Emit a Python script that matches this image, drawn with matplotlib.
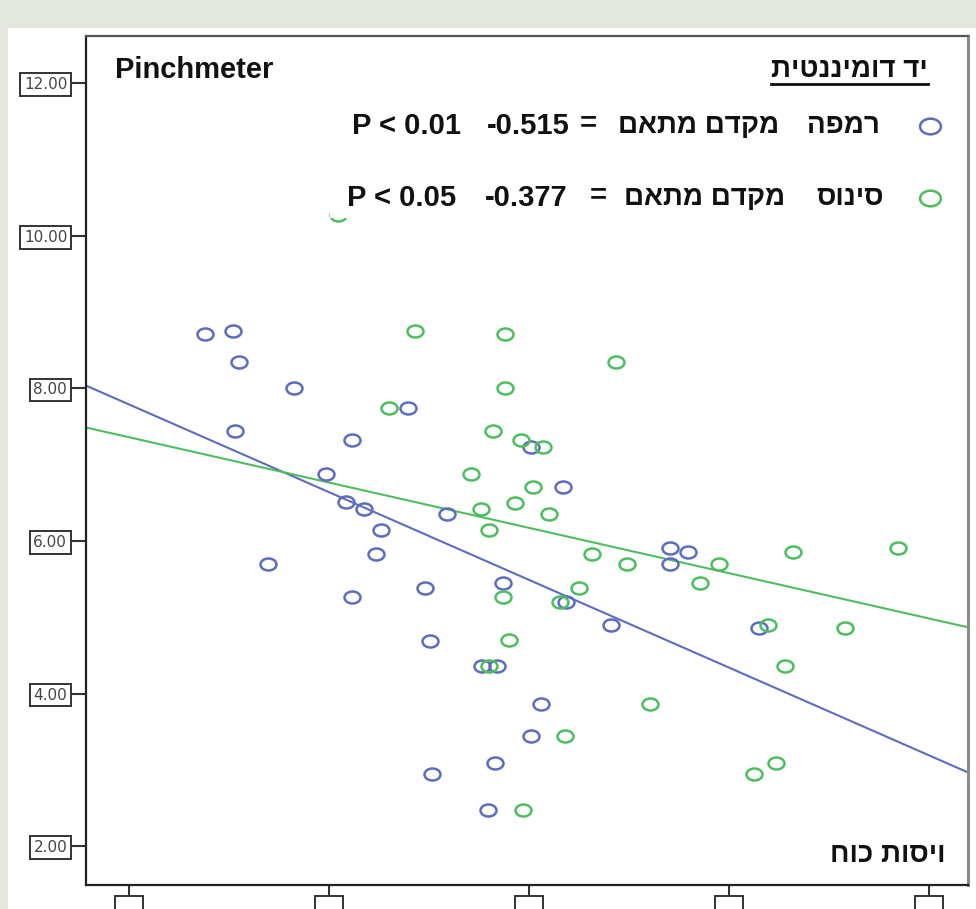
import matplotlib
matplotlib.use("Agg")
import matplotlib.pyplot as plt
import numpy as np
from matplotlib.path import Path
from matplotlib.transforms import Affine2D, IdentityTransform
from matplotlib.patches import Rectangle
from matplotlib.lines import Line2D

plt.rcParams['font.family'] = ['Liberation Sans', 'DejaVu Sans']

# רמפה (blue) points
ramp_x = [0.38, 0.52, 0.55, 0.825, 1.395, 0.53, 1.115, 0.985, 1.085, 1.175, 1.26,
          1.235, 0.695, 1.48, 1.115, 1.59, 2.01, 2.17, 1.87, 2.185, 2.41, 1.505,
          1.765, 1.84, 2.06, 2.01, 1.83, 1.515, 1.795, 2.705, 2.795, 2.705, 3.15]
ramp_y = [8.71, 8.75, 8.34, 8.00, 7.74, 7.44, 7.32, 6.88, 6.51, 6.42, 6.15,
          5.83, 5.70, 5.39, 5.26, 6.36, 7.23, 6.71, 5.45, 5.20, 4.90, 4.69,
          4.36, 4.36, 3.86, 3.44, 3.09, 2.94, 2.47, 5.91, 5.85, 5.70, 4.86]

# סינוס (green) points
sinus_x = [1.045, 1.43, 1.30, 1.88, 2.435, 1.88, 1.82, 1.96, 2.07, 1.71, 2.02,
           1.93, 1.76, 2.10, 1.80, 2.315, 2.49, 2.95, 2.855, 1.87, 2.25, 2.155,
           1.90, 1.80, 2.605, 2.18, 1.97, 3.32, 3.845, 3.195, 3.58, 3.28, 3.235, 3.125]
sinus_y = [10.27, 8.75, 7.74, 8.71, 8.34, 8.00, 7.44, 7.32, 7.23, 6.88, 6.71,
           6.50, 6.42, 6.36, 6.15, 5.83, 5.70, 5.70, 5.45, 5.26, 5.39, 5.20,
           4.70, 4.36, 3.86, 3.44, 2.47, 5.85, 5.91, 4.90, 4.86, 4.36, 3.09, 2.94]

# fit lines as shown in the chart (intercept, slope)
ramp_fit = (7.79, -1.15)
sinus_fit = (7.36, -0.594)

y_ticks = [2, 4, 6, 8, 10, 12]
y_labels = ["2.00", "4.00", "6.00", "8.00", "10.00", "12.00"]
x_ticks = [0, 1, 2, 3, 4]

blue = "#5c6cc0"
green = "#4cbf5c"

W, H = 976, 909
fig = plt.figure(figsize=(W / 100, H / 100), dpi=100, facecolor="#e4e7df")
fig.add_artist(Rectangle((8 / W, 0), 1, (H - 28) / H, transform=fig.transFigure,
                         facecolor="white", edgecolor="none", zorder=0))

AX_L, AX_R, AX_T, AX_B = 86, 968, 36, 885
ax = fig.add_axes([AX_L / W, (H - AX_B) / H, (AX_R - AX_L) / W, (AX_B - AX_T) / H])
ax.set_xlim(-0.215, 4.195)
ax.set_ylim(1.49, 12.62)


def px(x, y):
    return (x - AX_L) / (AX_R - AX_L), (AX_B - y) / (AX_B - AX_T)


# slightly wide ellipse marker like the SPSS output
ell = Path.unit_circle().transformed(Affine2D().scale(1.33, 1.0))

ax.plot(ramp_x, ramp_y, linestyle="none", marker=ell, markersize=11.5,
        markerfacecolor="none", markeredgecolor=blue, markeredgewidth=1.8, zorder=3)
ax.plot(sinus_x, sinus_y, linestyle="none", marker=ell, markersize=11.5,
        markerfacecolor="none", markeredgecolor=green, markeredgewidth=1.8, zorder=3)

for (b, k), c in [(ramp_fit, blue), (sinus_fit, green)]:
    ax.axline((0, b), slope=k, color=c, linewidth=1.5, zorder=2)

# spines
for s in ["left", "bottom"]:
    ax.spines[s].set_color("#222222")
    ax.spines[s].set_linewidth(1.6)
ax.spines["top"].set_color("#555555")
ax.spines["top"].set_linewidth(1.6)
ax.spines["right"].set_color("#8a8a8a")
ax.spines["right"].set_linewidth(2.2)

ax.set_yticks(y_ticks)
ax.set_yticklabels(y_labels)
ax.set_xticks(x_ticks)
ax.set_xticklabels(["\u2007\u2007" for _ in x_ticks])
ax.tick_params(axis="y", length=11.5, width=1.5, color="#333333", pad=2,
               labelsize=11, labelcolor="#444444")
ax.tick_params(axis="x", length=9, width=1.5, color="#333333", pad=2,
               labelsize=11)
for lbl in ax.get_yticklabels() + ax.get_xticklabels():
    lbl.set_family(["DejaVu Sans"])
    lbl.set_bbox(dict(facecolor="white", edgecolor="#333333", linewidth=1.4,
                      boxstyle="square,pad=0.25"))

# legend area
x0, y0 = px(330, 218)
x1, y1 = px(966, 38)
ax.add_patch(Rectangle((x0, y0), x1 - x0, y1 - y0, transform=ax.transAxes,
                       facecolor="white", edgecolor="none", zorder=4))


def heb(s):
    return s[::-1]


tk = dict(transform=ax.transAxes, fontsize=21, fontweight="bold", va="center",
          color="#111111", zorder=5)
hk = dict(tk, fontsize=20)

ax.text(*px(115, 70), "Pinchmeter", ha="left", **tk)
head = ax.text(*px(928, 70), heb("יד דומיננטית"), ha="right", **hk)

rows = [
    (126, blue, heb("רמפה"), 880, heb("מקדם מתאם"), 779, 588, "-0.515", 570, "P < 0.01", 461),
    (198, green, heb("סינוס"), 884, heb("מקדם מתאם"), 785, 598, "-0.377", 568, "P < 0.05", 456),
]
for y, c, name, nx, coef, cx, ex, val, vx, p, pxr in rows:
    ax.plot(*px(930, y), transform=ax.transAxes, marker=ell, markersize=15,
            markerfacecolor="none", markeredgecolor=c, markeredgewidth=1.8,
            linestyle="none", zorder=5, clip_on=False)
    ax.text(*px(nx, y), name, ha="right", **hk)
    ax.text(*px(cx, y), coef, ha="right", **hk)
    ax.text(*px(ex, y - 3), "=", ha="center", **tk)
    ax.text(*px(vx, y), val, ha="right", **tk)
    ax.text(*px(pxr, y), p, ha="right", **tk)

ax.text(*px(946, 855), heb("ויסות כוח"), ha="right", **hk)

# underline the header
fig.canvas.draw()
bb = head.get_window_extent()
fig.add_artist(Line2D([bb.x0, bb.x1], [bb.y0 - 1, bb.y0 - 1], transform=IdentityTransform(),
                      color="#111111", linewidth=2))

fig.savefig("out.png", dpi=100, facecolor=fig.get_facecolor())
